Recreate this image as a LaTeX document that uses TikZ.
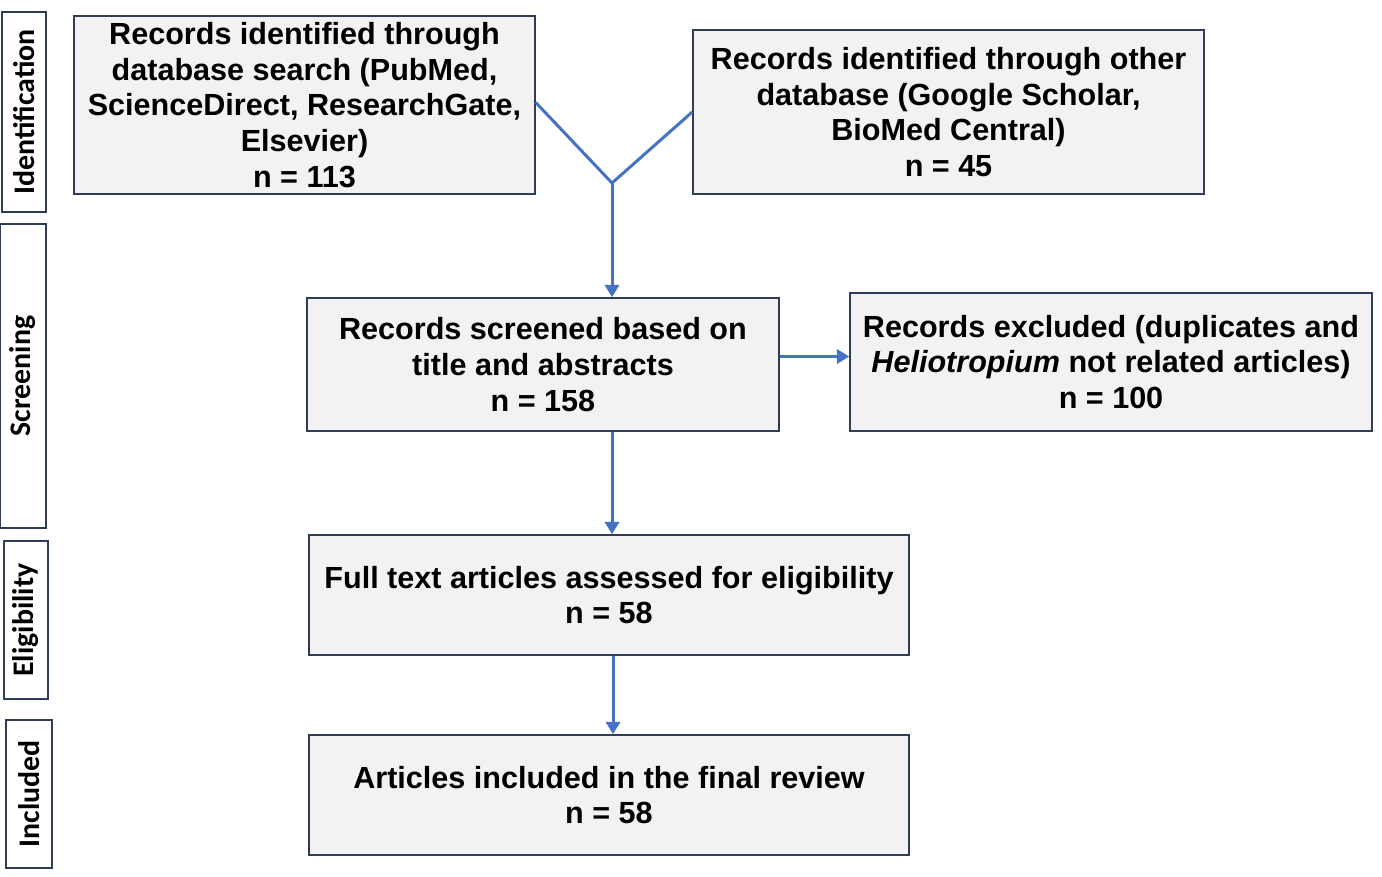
\documentclass[tikz,border=0pt]{standalone}
\usepackage{fontspec}
\setmainfont{Liberation Sans}
\newfontfamily\sidefont{Carlito}
\usetikzlibrary{arrows.meta}
\definecolor{boxfill}{HTML}{F2F2F2}
\definecolor{boxline}{HTML}{2F3E56}
\definecolor{arrowblue}{HTML}{4472C4}
\tikzset{
  stagebox/.style={draw=boxline, line width=0.9pt, fill=boxfill, align=center,
    font=\fontsize{17.4}{20.4}\selectfont\bfseries, inner sep=0pt},
  sidebox/.style={draw=boxline, line width=0.9pt, fill=white, rotate=90,
    font=\sidefont\bfseries\fontsize{17}{19}\selectfont, inner sep=0pt},
  flow/.style={draw=arrowblue, line width=1.7pt, -{Triangle[length=7pt,width=8pt]}},
  flowline/.style={draw=arrowblue, line width=1.7pt}
}
\begin{document}
\begin{tikzpicture}[x=0.02cm,y=-0.02cm]
\useasboundingbox (0,0) rectangle (1382,876);
% side labels
\node[sidebox, minimum width=4.0cm, minimum height=0.88cm] (sid) at (24,112) {Identification};
\node[sidebox, minimum width=6.08cm, minimum height=0.92cm] (sscr) at (23,376) {Screening};
\node[sidebox, minimum width=3.16cm, minimum height=0.88cm] (selig) at (26,620) {Eligibility};
\node[sidebox, minimum width=2.96cm, minimum height=0.92cm] (sinc) at (29,794) {Included};
% boxes
\node[stagebox, minimum width=9.22cm, minimum height=3.56cm] (A) at (304.5,105)
  {Records identified through\\database search (PubMed,\\ScienceDirect, ResearchGate,\\Elsevier)\\n = 113};
\node[stagebox, minimum width=10.22cm, minimum height=3.28cm] (B) at (948.5,112)
  {Records identified through other\\database (Google Scholar,\\BioMed Central)\\n = 45};
\node[stagebox, minimum width=9.44cm, minimum height=2.66cm] (C) at (543,364.5)
  {Records screened based on\\title and abstracts\\n = 158};
\node[stagebox, minimum width=10.44cm, minimum height=2.76cm] (D) at (1111,362)
  {Records excluded (duplicates and\\\textit{Heliotropium} not related articles)\\n = 100};
\node[stagebox, minimum width=12.0cm, minimum height=2.4cm] (E) at (609,595)
  {Full text articles assessed for eligibility\\n = 58};
\node[stagebox, minimum width=12.0cm, minimum height=2.4cm] (F) at (609,795)
  {Articles included in the final review\\n = 58};
% connectors
\coordinate (J) at (612,183);
\draw[flowline] ([yshift=0.05cm]A.east) -- (J);
\draw[flowline] (B.west) -- (J);
\draw[flow] (J) -- (J |- C.north);
\draw[flow] ([yshift=0.16cm]C.east) -- ([yshift=0.16cm]D.west |- C.east);
\draw[flow] (C.south -| J) -- (J |- E.north);
\draw[flow] (E.south -| 613,0) -- (F.north -| 613,0);
\end{tikzpicture}
\end{document}
